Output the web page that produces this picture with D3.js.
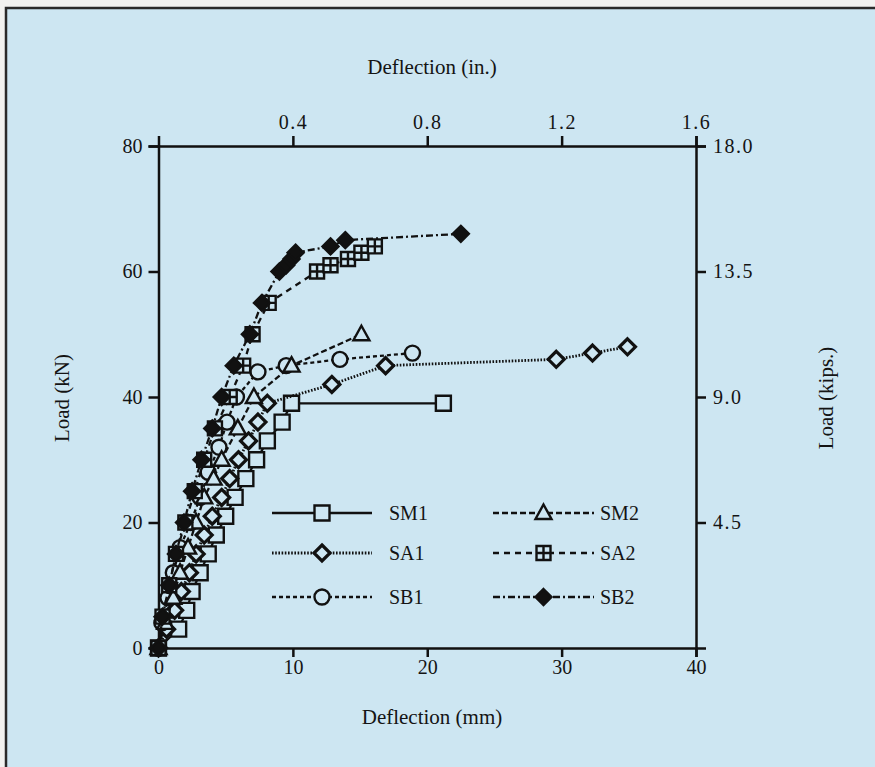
<!DOCTYPE html>
<html>
<head>
<meta charset="utf-8">
<script src="https://cdn.jsdelivr.net/npm/d3@7"></script>
<style>
  body { margin: 0; background: #f2f2f0; }
  svg text { font-family: "Liberation Serif", "Times New Roman", serif; fill: #141414; }
</style>
</head>
<body>
<div id="chart"></div>
<script>
var svgWidth = 875, svgHeight = 767;

// deflection (mm), load (kN)
var SM1 = [[0,0],[1.5,3],[2.1,6],[2.5,9],[3.1,12],[3.7,15],[4.3,18],[5.0,21],[5.7,24],[6.5,27],[7.3,30],[8.1,33],[9.2,36],[9.9,39],[21.2,39]];
var SA1 = [[0,0],[0.6,3],[1.2,6],[1.7,9],[2.3,12],[2.8,15],[3.4,18],[4.0,21],[4.7,24],[5.3,27],[5.95,30],[6.7,33],[7.4,36],[8.1,39],[12.9,42],[16.9,45],[29.6,46],[32.3,47],[34.9,48]];
var SB1 = [[0,0],[0.25,4],[0.7,8],[1.1,12],[1.6,16],[2.4,20],[3.1,24],[3.7,28],[4.5,32],[5.1,36],[5.8,40],[7.4,44],[9.5,45],[13.5,46],[18.9,47]];
var SM2 = [[0,0],[0.5,4],[1.1,8],[1.6,12],[2.2,16],[2.8,20],[3.4,24],[4.1,27],[4.7,30],[5.9,35],[7.1,40],[9.9,45],[15.1,50]];
var SA2 = [[0,0],[0.3,5],[0.8,10],[1.3,15],[2.0,20],[2.7,25],[3.4,30],[4.2,35],[5.3,40],[6.3,45],[7.0,50],[8.2,55],[11.8,60],[12.8,61],[14.1,62],[15.1,63],[16.1,64]];
var SB2 = [[0,0],[0.3,5],[0.8,10],[1.3,15],[1.9,20],[2.5,25],[3.2,30],[4.0,35],[4.7,40],[5.6,45],[6.8,50],[7.7,55],[9.0,60],[9.5,61],[9.9,62],[10.2,63],[12.8,64],[13.9,65],[22.5,66]];

var seriesNames = ["SM1", "SA1", "SB1", "SM2", "SA2", "SB2"];
var mmTicks = [0, 10, 20, 30, 40];
var kNTicks = [0, 20, 40, 60, 80];
var inTicks = [0.4, 0.8, 1.2, 1.6];
var kipTicks = [4.5, 9.0, 13.5, 18.0];

var bg = "#cde6f2";

var series = [
  {name: "SM1", data: SM1, dash: null,      marker: "square"},
  {name: "SA1", data: SA1, dash: "1.6,1.6", marker: "diamond"},
  {name: "SB1", data: SB1, dash: "4,3",     marker: "circle"},
  {name: "SM2", data: SM2, dash: "6,3",     marker: "triangle"},
  {name: "SA2", data: SA2, dash: "6,5",     marker: "crossSquare"},
  {name: "SB2", data: SB2, dash: "7,3,2,3", marker: "filledDiamond"}
];

var svg = d3.select("#chart")
  .append("svg")
  .attr("width", svgWidth)
  .attr("height", svgHeight);

// panel with dark frame on top and left
svg.append("rect")
  .attr("x", 6).attr("y", 8)
  .attr("width", svgWidth).attr("height", svgHeight)
  .attr("fill", bg);
svg.append("path")
  .attr("d", "M6," + svgHeight + "V8H" + svgWidth)
  .attr("fill", "none")
  .attr("stroke", "#2a2a2a")
  .attr("stroke-width", 2.5);

var x = d3.scaleLinear().domain([0, 40]).range([158.5, 696]);
var xIn = d3.scaleLinear().domain([0, 1.6]).range([158.5, 696]);
var y = d3.scaleLinear().domain([0, 80]).range([648, 146]);
var yKip = d3.scaleLinear().domain([0, 18]).range([648, 146]);

var axisG = svg.append("g");

axisG.append("g")
  .attr("transform", "translate(0,648)")
  .call(d3.axisBottom(x).tickValues(mmTicks).tickSize(9).tickPadding(3).tickFormat(d3.format("d")));
axisG.append("g")
  .attr("transform", "translate(158.5,0)")
  .call(d3.axisLeft(y).tickValues(kNTicks).tickSize(10).tickPadding(6).tickFormat(d3.format("d")));
var topAxis = axisG.append("g")
  .attr("transform", "translate(0,146)")
  .call(d3.axisTop(xIn).tickValues(inTicks).tickSize(10).tickPadding(7).tickFormat(d3.format(".1f")));
var rightAxis = axisG.append("g")
  .attr("transform", "translate(696,0)")
  .call(d3.axisRight(yKip).tickValues(kipTicks).tickSize(10).tickPadding(7).tickFormat(d3.format(".1f")));

axisG.selectAll(".domain").attr("stroke", "#111").attr("stroke-width", 2.5);
axisG.selectAll(".tick line").attr("stroke", "#111").attr("stroke-width", 2.5);
axisG.selectAll(".tick text")
  .style("font-family", "'Liberation Serif', serif")
  .style("font-size", "20px")
  .attr("fill", "#141414");
// the inch and kip labels are typed with wide spacing
topAxis.selectAll(".tick text").style("letter-spacing", "1.5px");
rightAxis.selectAll(".tick text").style("letter-spacing", "1.5px");

// axis titles
svg.append("text").text("Deflection (mm)")
  .attr("x", 432).attr("y", 724)
  .attr("text-anchor", "middle").style("font-size", "21px");
svg.append("text").text("Deflection (in.)")
  .attr("x", 432).attr("y", 74)
  .attr("text-anchor", "middle").style("font-size", "21px");
svg.append("text").text("Load (kN)")
  .attr("transform", "translate(69,398) rotate(-90)")
  .attr("text-anchor", "middle").style("font-size", "21px");
svg.append("text").text("Load (kips.)")
  .attr("transform", "translate(833,398) rotate(-90)")
  .attr("text-anchor", "middle").style("font-size", "21px");

function markerPath(type) {
  var p = d3.path();
  if (type == "square" || type == "crossSquare") {
    var h = type == "square" ? 7.5 : 7;
    p.rect(-h, -h, 2*h, 2*h);
    if (type == "crossSquare") {
      p.moveTo(0, -h); p.lineTo(0, h);
      p.moveTo(-h, 0); p.lineTo(h, 0);
    }
  } else if (type == "diamond" || type == "filledDiamond") {
    var r = 8;
    p.moveTo(0, -r); p.lineTo(r, 0); p.lineTo(0, r); p.lineTo(-r, 0); p.closePath();
  } else if (type == "circle") {
    p.arc(0, 0, 7.5, 0, 2*Math.PI);
  } else if (type == "triangle") {
    p.moveTo(0, -8.5); p.lineTo(8, 6); p.lineTo(-8, 6); p.closePath();
  }
  return p.toString();
}

function drawMarkers(g, type, pts) {
  g.selectAll("path.mk")
    .data(pts)
    .enter()
    .append("path")
    .attr("class", "mk")
    .attr("d", markerPath(type))
    .attr("transform", d => "translate(" + d[0] + "," + d[1] + ")")
    .attr("fill", type == "filledDiamond" ? "#111" : bg)
    .attr("stroke", "#111")
    .attr("stroke-width", type == "diamond" ? 3.2 : 2.4);
}

var line = d3.line().x(d => x(d[0])).y(d => y(d[1]));
var plot = svg.append("g");

series.forEach(function(s) {
  var g = plot.append("g").attr("class", s.name);
  g.append("path")
    .datum(s.data)
    .attr("d", line)
    .attr("fill", "none")
    .attr("stroke", "#111")
    .attr("stroke-width", s.dash == "1.6,1.6" ? 2.8 : 2.3)
    .attr("stroke-dasharray", s.dash);
  drawMarkers(g, s.marker, s.data.map(d => [x(d[0]), y(d[1])]));
});

// legend, two columns of three rows
var legendCols = [{x0: 272, x1: 372, tx: 389}, {x0: 493, x1: 594, tx: 600}];
var legendRows = [513, 553, 597];

var leg = svg.append("g");
series.forEach(function(s, i) {
  var c = legendCols[Math.floor(i / 3)], ry = legendRows[i % 3];
  var g = leg.append("g");
  g.append("line")
    .attr("x1", c.x0).attr("x2", c.x1)
    .attr("y1", ry).attr("y2", ry)
    .attr("stroke", "#111")
    .attr("stroke-width", s.dash == "1.6,1.6" ? 2.8 : 2.3)
    .attr("stroke-dasharray", s.dash);
  drawMarkers(g, s.marker, [[(c.x0 + c.x1) / 2, ry]]);
  g.append("text").text(seriesNames[i])
    .attr("x", c.tx).attr("y", ry + 7)
    .style("font-size", "20px");
});
</script>
</body>
</html>
